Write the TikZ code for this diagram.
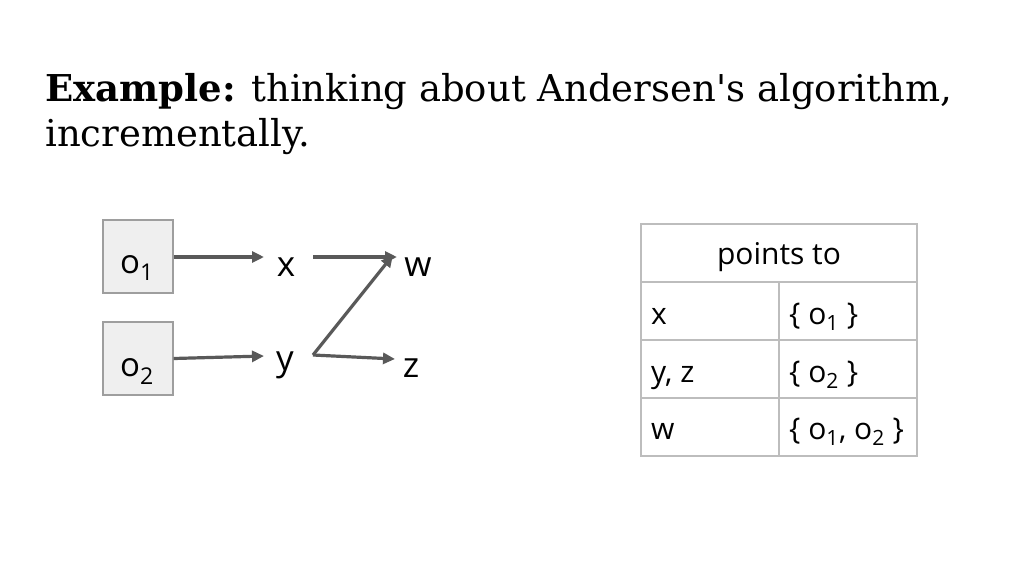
\documentclass[tikz,border=0pt]{standalone}
\usepackage{fontspec}
\setmainfont{DejaVu Serif}[Ligatures=TeXOff]
\newfontfamily\osans{Open Sans}
\usetikzlibrary{arrows.meta}
\definecolor{arr}{HTML}{595959}
\definecolor{boxfill}{HTML}{EFEFEF}
\definecolor{boxline}{HTML}{9E9E9E}
\definecolor{tline}{HTML}{BDBDBD}
\begin{document}
\begin{tikzpicture}[x=1pt,y=-1pt,
  objbox/.style={draw=boxline,fill=boxfill,line width=1.2pt,minimum width=70pt,minimum height=73pt,inner sep=0pt},
  lbl/.style={anchor=base,inner sep=0pt,font=\osans\fontsize{35}{42}\selectfont},
  olbl/.style={anchor=base,inner sep=0pt,font=\osans\fontsize{33}{40}\selectfont},
  tx/.style={anchor=base west,inner sep=0pt,font=\osans\fontsize{30}{36}\selectfont},
  conn/.style={draw=arr,line width=3.2pt,-{Triangle[length=12pt,width=11pt]}},
  tl/.style={draw=tline,line width=1.2pt}]
\useasboundingbox (0,0) rectangle (1024,576);
% title
\node[anchor=base west,inner sep=0pt,font=\fontsize{37}{46}\selectfont] (t1) at (45,101) {\textbf{Example:} thinking about Andersen's algorithm,};
\node[anchor=base west,inner sep=0pt,font=\fontsize{37}{46}\selectfont] (t2) at (45,146) {incrementally.};
% nodes
\node[objbox] (o1) at (138,256.5) {};
\node[olbl] (o1l) at (137,273) {o\textsubscript{1}};
\node[objbox] (o2) at (138,358.5) {};
\node[olbl] (o2l) at (137,376) {o\textsubscript{2}};
\node[lbl] (x) at (286,276) {x};
\node[lbl] (w) at (418,276) {w};
\node[lbl] (y) at (285,370) {y};
\node[lbl] (z) at (411,377) {z};
\coordinate (xa) at (264,257);
\coordinate (ya) at (264,356);
\coordinate (xb) at (313,257);
\coordinate (yb) at (313,355);
\coordinate (wa) at (397,257);
\coordinate (wb) at (393,255);
\coordinate (za) at (395,359);
\draw[conn] (o1.east |- xa) -- (xa);
\draw[conn] (o2.east) -- (ya);
\draw[conn] (xb) -- (wa);
\draw[conn] (yb) -- (wb);
\draw[conn] (yb) -- (za);
% table
\coordinate (tA) at (641,224);
\coordinate (tB) at (917,456);
\draw[tl] (tA) rectangle (tB);
\draw[tl] (641,282) -- (917,282);
\draw[tl] (641,340) -- (917,340);
\draw[tl] (641,398) -- (917,398);
\draw[tl] (779,282) -- (779,456);
\node[tx,anchor=base] (hd) at (779,264) {points to};
\node[tx] (r1a) at (651,324) {x};
\node[tx] (r1b) at (789,324) {\{ o\textsubscript{1} \}};
\node[tx] (r2a) at (651,382) {y, z};
\node[tx] (r2b) at (789,382) {\{ o\textsubscript{2} \}};
\node[tx] (r3a) at (651,439) {w};
\node[tx] (r3b) at (789,439) {\{ o\textsubscript{1}, o\textsubscript{2} \}};
\end{tikzpicture}
\end{document}
